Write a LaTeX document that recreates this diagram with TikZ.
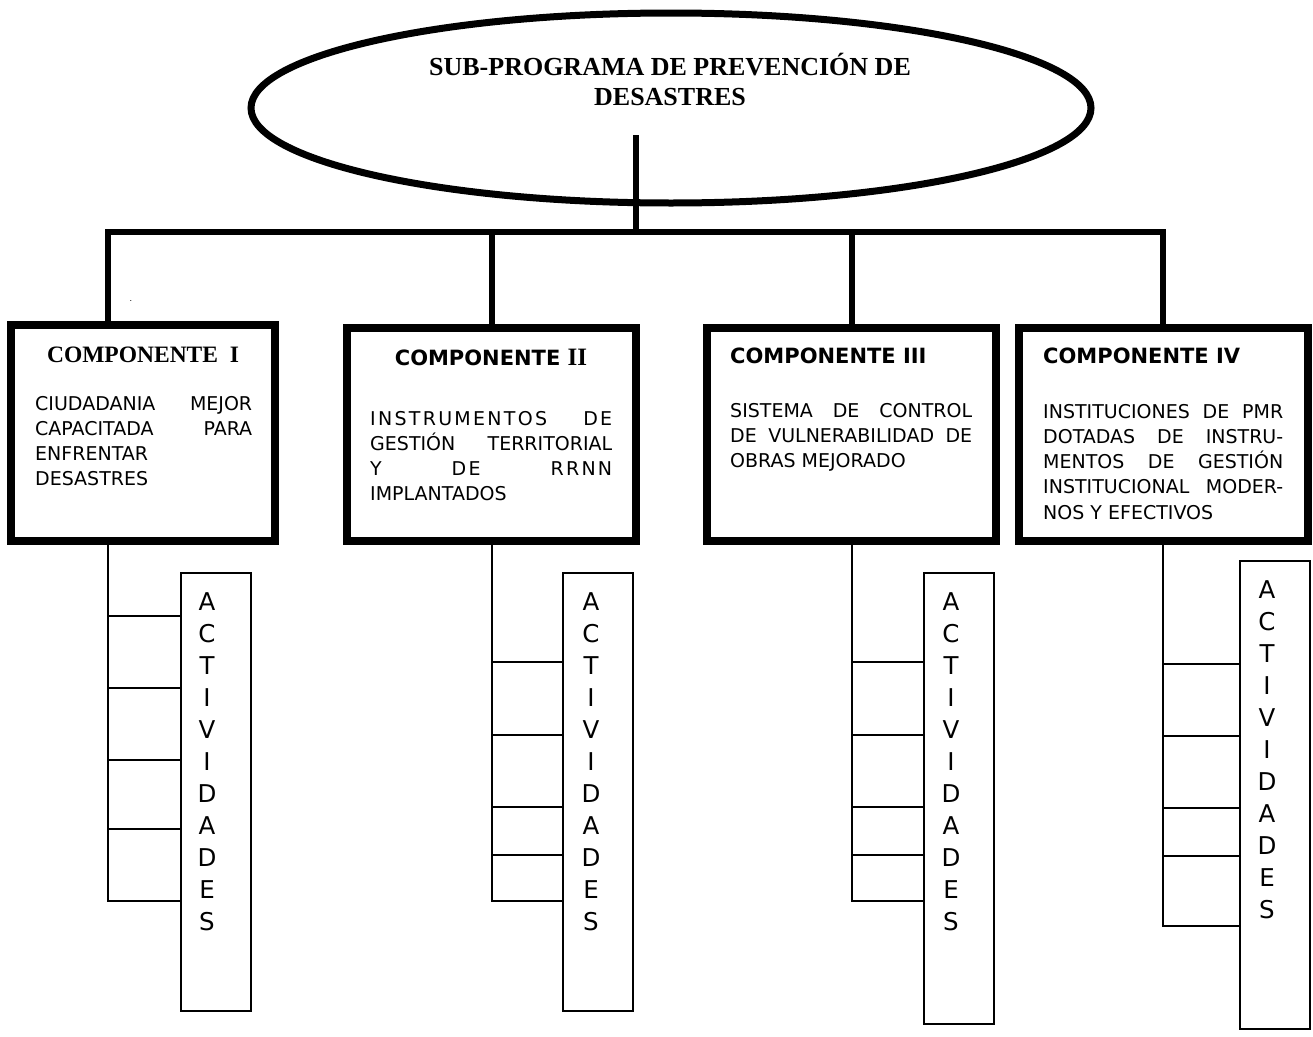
\documentclass[tikz,border=0pt]{standalone}
\usepackage{fontspec}
\setmainfont{DejaVu Sans}
\newfontfamily\tnr{Liberation Serif}
\usetikzlibrary{shapes.geometric}
\newcommand{\jl}[2]{\makebox[#1][s]{#2}}
\begin{document}
\begin{tikzpicture}[x=1pt,y=-1pt,
  bar/.style={line width=5.5pt},
  comp/.style={draw, line width=8pt, minimum width=289pt, minimum height=213pt, inner sep=0pt},
  act/.style={draw, line width=2pt, minimum width=70pt, inner sep=0pt},
  thinline/.style={line width=2pt},
  body/.style={anchor=base west, inner sep=0pt, font=\fontsize{19}{25.3}\selectfont},
  ttl/.style={inner sep=0pt, font=\bfseries\fontsize{21}{25}\selectfont},
  letters/.style={anchor=base, inner sep=0pt, font=\fontsize{24.5}{32}\selectfont}]
\useasboundingbox (0,0) rectangle (1313,1036);

% main ellipse
\node[draw, ellipse, line width=7pt, minimum width=840pt, minimum height=190pt, inner sep=0pt] (prog) at (671,108) {};
\node[anchor=base, inner sep=0pt, font=\tnr\bfseries\fontsize{26}{30}\selectfont] (progtxt) at (670,75)
  {\parbox[t]{700pt}{\centering SUB-PROGRAMA DE PREVENCIÓN DE\\DESASTRES}};

% component boxes
\node[comp, minimum width=264pt, minimum height=216pt] (b1) at (143,433) {};
\node[comp] (b2) at (491,434.5) {};
\node[comp] (b3) at (851.5,434.5) {};
\node[comp] (b4) at (1163.5,434.5) {};

% tree
\coordinate (stem) at (636,135);
\coordinate (j0) at (636,232);
\coordinate (j1) at (108,232);
\coordinate (j2) at (492,232);
\coordinate (j3) at (852,232);
\coordinate (j4) at (1163,232);
\draw[bar] (stem) -- (j0);
\draw[bar] (b1.north -| j1) -- (j1) -- (j4) -- (b4.north -| j4);
\draw[bar] (j2) -- (b2.north -| j2);
\draw[bar] (j3) -- (b3.north -| j3);

\node[inner sep=0pt, font=\fontsize{8}{8}\selectfont] (dot) at (131,301) {.};

% titles
\node[anchor=base, inner sep=0pt, font=\tnr\bfseries\fontsize{23.5}{28}\selectfont] (t1) at (143,362) {COMPONENTE~~I};
\node[ttl, anchor=base] (t2) at (491,365) {COMPONENTE {\tnr\bfseries\fontsize{25}{25}\selectfont II}};
\node[ttl, anchor=base west] (t3) at (730,363) {COMPONENTE III};
\node[ttl, anchor=base west] (t4) at (1043,363) {COMPONENTE IV};

% body texts
\node[body] (d1) at (35,410) {\parbox[t]{217pt}{\jl{217pt}{CIUDADANIA MEJOR}\\\jl{217pt}{CAPACITADA PARA}\\ENFRENTAR\\DESASTRES}};
\node[body] (d2) at (370,425) {\parbox[t]{242pt}{\jl{242pt}{\addfontfeature{LetterSpace=12}INSTRUMENTOS DE}\\\jl{242pt}{GESTIÓN TERRITORIAL}\\\jl{242pt}{\addfontfeature{LetterSpace=12}Y DE RRNN}\\IMPLANTADOS}};
\node[body] (d3) at (730,417) {\parbox[t]{242pt}{\jl{242pt}{SISTEMA DE CONTROL}\\\jl{242pt}{DE VULNERABILIDAD DE}\\OBRAS MEJORADO}};
\node[body] (d4) at (1043,418) {\parbox[t]{240pt}{\jl{240pt}{INSTITUCIONES DE PMR}\\\jl{240pt}{DOTADAS DE INSTRU-}\\\jl{240pt}{MENTOS DE GESTIÓN}\\\jl{240pt}{INSTITUCIONAL MODER-}\\NOS Y EFECTIVOS}};

% activity boxes
\node[act, minimum height=438pt] (a1) at (215.5,792) {};
\node[act, minimum height=438pt] (a2) at (598,792) {};
\node[act, minimum height=451pt] (a3) at (959,798.5) {};
\node[act, minimum height=468pt] (a4) at (1274.5,795) {};

\node[letters] (l1) at (207,610) {\parbox[t]{30pt}{\centering A\\C\\T\\I\\V\\I\\D\\A\\D\\E\\S}};
\node[letters] (l2) at (591,610) {\parbox[t]{30pt}{\centering A\\C\\T\\I\\V\\I\\D\\A\\D\\E\\S}};
\node[letters] (l3) at (951,610) {\parbox[t]{30pt}{\centering A\\C\\T\\I\\V\\I\\D\\A\\D\\E\\S}};
\node[letters] (l4) at (1267,598) {\parbox[t]{30pt}{\centering A\\C\\T\\I\\V\\I\\D\\A\\D\\E\\S}};

% activity branches
\coordinate (e1) at (108,901);
\draw[thinline] (b1.south -| j1) -- (e1) -- (e1 -| a1.west);
\foreach \y in {616,688,760,829} \draw[thinline] (108,\y) -- (a1.west |- 0,\y);
\coordinate (e2) at (492,901);
\draw[thinline] (b2.south -| j2) -- (e2) -- (e2 -| a2.west);
\foreach \y in {662,735,807,855} \draw[thinline] (492,\y) -- (a2.west |- 0,\y);
\coordinate (e3) at (852,901);
\draw[thinline] (b3.south -| j3) -- (e3) -- (e3 -| a3.west);
\foreach \y in {662,735,807,855} \draw[thinline] (852,\y) -- (a3.west |- 0,\y);
\coordinate (e4) at (1163,926);
\draw[thinline] (b4.south -| j4) -- (e4) -- (e4 -| a4.west);
\foreach \y in {664,736,808,856} \draw[thinline] (1163,\y) -- (a4.west |- 0,\y);
\end{tikzpicture}
\end{document}
